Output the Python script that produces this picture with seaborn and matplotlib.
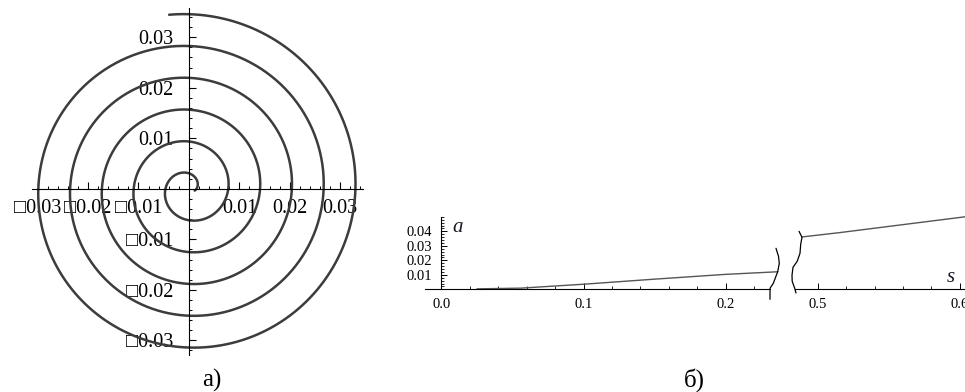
import numpy as np
import pandas as pd
import matplotlib
matplotlib.use("Agg")
import matplotlib.pyplot as plt
import seaborn as sns
from matplotlib.ticker import FixedLocator, MultipleLocator
from matplotlib.lines import Line2D
import matplotlib.transforms as mtransforms

# ---------------- data ----------------
# panel a): Archimedean spiral r = r0 + b*theta (values read from the picture)
spiral_r0 = 0.0015
spiral_growth_per_turn = 0.0063
spiral_theta_start = -0.3
spiral_theta_end = 33.1
spiral_ticks = [-0.03, -0.02, -0.01, 0.01, 0.02, 0.03]
spiral_tick_labels = ["\u25a10.03", "\u25a10.02", "\u25a10.01", "0.01", "0.02", "0.03"]

# panel б): a(s) with a broken s-axis
s_left = [0.025, 0.056, 0.10, 0.15, 0.20, 0.2368]
a_left = [0.0003, 0.0008, 0.0035, 0.0070, 0.0103, 0.0121]
s_right = [0.4888, 0.5154, 0.6036]
a_right = [0.0361, 0.0391, 0.0500]
left_xticks = [0.0, 0.1, 0.2]
left_xtick_labels = ["0.0", "0.1", "0.2"]
right_xticks = [0.5, 0.6]
right_xtick_labels = ["0.5", "0.6"]
a_ticks = [0.01, 0.02, 0.03, 0.04]
a_tick_labels = ["0.01", "0.02", "0.03", "0.04"]
panel_labels = ["\u0430)", "\u0431)"]

# ---------------- style ----------------
sns.set_theme(style="white")
plt.rcParams["font.family"] = ["Liberation Serif", "DejaVu Serif"]
plt.rcParams["axes.facecolor"] = "none"
plt.rcParams["xtick.bottom"] = True
plt.rcParams["ytick.left"] = True

W, H = 965, 392
fig = plt.figure(figsize=(W / 100, H / 100), dpi=100)
fig.patch.set_facecolor("white")


def px_axes(x0, y0, x1, y1):
    return fig.add_axes([x0 / W, 1 - y1 / H, (x1 - x0) / W, (y1 - y0) / H])


def mathematica_axes(ax, show_left=True, left_pos=0.0):
    for side in ["top", "right"]:
        ax.spines[side].set_visible(False)
    ax.spines["bottom"].set_position(("data", 0))
    ax.spines["bottom"].set_linewidth(0.8)
    ax.spines["bottom"].set_color("black")
    if show_left:
        ax.spines["left"].set_position(("data", left_pos))
        ax.spines["left"].set_linewidth(0.8)
        ax.spines["left"].set_color("black")
    else:
        ax.spines["left"].set_visible(False)
    ax.grid(False)
    ax.set_xlabel("")
    ax.set_ylabel("")


# ---------------- panel a) ----------------
ax1 = px_axes(32, 8, 363, 355)
theta = np.linspace(spiral_theta_start, spiral_theta_end, 3000)
r = spiral_r0 + spiral_growth_per_turn / (2 * np.pi) * theta
spiral = pd.DataFrame({"x": r * np.cos(theta), "y": r * np.sin(theta)})
sns.lineplot(data=spiral, x="x", y="y", sort=False, estimator=None,
             color="#3c3c3c", linewidth=1.8, ax=ax1)
ax1.set_xlim(-0.0311, 0.0345)
ax1.set_ylim(-0.0329, 0.0358)
mathematica_axes(ax1)
for axis in (ax1.xaxis, ax1.yaxis):
    axis.set_major_locator(FixedLocator(spiral_ticks))
    axis.set_minor_locator(MultipleLocator(0.002))
ax1.set_xticklabels(spiral_tick_labels)
ax1.set_yticklabels(spiral_tick_labels)
ax1.tick_params(which="both", bottom=True, left=True, top=False, right=False)
ax1.tick_params(which="major", direction="in", length=5, width=0.8,
                labelsize=14.5, colors="black")
ax1.tick_params(which="minor", direction="in", length=2.5, width=0.7,
                colors="black")
ax1.tick_params(axis="x", which="major", pad=7)
ax1.tick_params(axis="y", which="major", pad=11)

# ---------------- panel б) ----------------
axL = px_axes(425, 216.8, 770, 289.3)
axR = px_axes(794.7, 216.8, 965, 289.3)
sns.lineplot(x=s_left, y=a_left, sort=False, estimator=None,
             color="#555555", linewidth=1.0, ax=axL)
sns.lineplot(x=s_right, y=a_right, sort=False, estimator=None,
             color="#555555", linewidth=1.0, ax=axR)
for ln in axL.lines + axR.lines:
    ln.set_clip_on(False)

axL.set_xlim(-0.0116, 0.2313)
axR.set_xlim(0.4837, 0.6036)
for ax in (axL, axR):
    ax.set_ylim(0, 0.05)
mathematica_axes(axL, show_left=True, left_pos=0.0)
mathematica_axes(axR, show_left=False)

axL.xaxis.set_major_locator(FixedLocator(left_xticks))
axL.set_xticklabels(left_xtick_labels)
axL.xaxis.set_minor_locator(MultipleLocator(0.02))
axL.yaxis.set_major_locator(FixedLocator(a_ticks))
axL.set_yticklabels(a_tick_labels)
axL.yaxis.set_minor_locator(MultipleLocator(0.002))
axR.xaxis.set_major_locator(FixedLocator(right_xticks))
axR.set_xticklabels(right_xtick_labels)
axR.xaxis.set_minor_locator(MultipleLocator(0.02))
axR.yaxis.set_major_locator(FixedLocator([]))
axR.yaxis.set_minor_locator(FixedLocator([]))

for ax in (axL, axR):
    ax.tick_params(which="both", bottom=True, top=False, right=False)
    ax.tick_params(which="major", direction="in", length=4, width=0.7,
                   labelsize=10.5, colors="black")
    ax.tick_params(which="minor", direction="in", length=2.5, width=0.6,
                   colors="black")
    ax.tick_params(axis="x", which="major", pad=6.5)
axL.tick_params(which="both", left=True)
axR.tick_params(which="both", left=False)
axL.tick_params(axis="y", which="major", pad=7)

# axis-break marks (pixel offsets from the axis ends)
left_break = [(6, 41), (8.5, 33), (9.3, 26), (7.7, 17.6), (3.3, 6), (0, 1), (0, -10)]
right_break = [(4.3, 58), (7.3, 52), (6, 45), (5.3, 36), (2.5, 28), (-1.7, 22),
               (-2.7, 14), (-2.5, 8), (0, 1), (1.3, -3.7)]
fig.canvas.draw()
for ax, xpos, shape in ((axL, axL.get_xlim()[1], left_break),
                        (axR, axR.get_xlim()[0], right_break)):
    ox, oy = ax.transData.transform((xpos, 0))
    xs = [ox + dx for dx, dy in shape]
    ys = [oy + dy for dx, dy in shape]
    fig.add_artist(Line2D(xs, ys, transform=mtransforms.IdentityTransform(),
                          color="black", linewidth=0.9))

# axis names
fig.text(458 / W, 1 - 227 / H, "a", fontsize=15, style="italic",
         color="#1a1a28", ha="center", va="center")
fig.text(951 / W, 1 - 278 / H, "s", fontsize=15, style="italic",
         color="#1a1a28", ha="center", va="center")

# panel labels
fig.text(212 / W, 1 - 380 / H, panel_labels[0], fontsize=18,
         ha="center", va="center", color="black")
fig.text(694 / W, 1 - 380 / H, panel_labels[1], fontsize=18,
         ha="center", va="center", color="black")

fig.savefig("out.png", dpi=100, facecolor="white")
